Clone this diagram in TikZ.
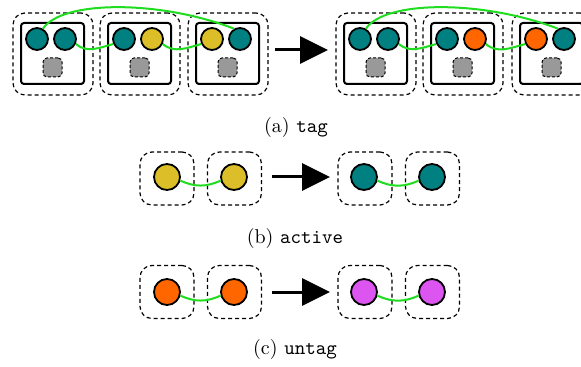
\documentclass[tikz,border=0pt]{standalone}
\usetikzlibrary{arrows.meta}
\definecolor{tealc}{RGB}{0,128,128}
\definecolor{yellowc}{RGB}{219,190,40}
\definecolor{orangec}{RGB}{255,102,0}
\definecolor{magentac}{RGB}{220,85,240}
\definecolor{linkgreen}{RGB}{30,220,30}
\definecolor{graysq}{RGB}{153,153,153}
\tikzset{
  outerbox/.style={draw, dash pattern=on 2pt off 1.5pt, rounded corners=6pt, line width=0.6pt, inner sep=0pt},
  innerbox/.style={draw, line width=1pt, rounded corners=1.5pt, minimum width=31.5pt, minimum height=30.5pt, inner sep=0pt},
  ball/.style={circle, draw, line width=0.9pt, minimum size=11pt, inner sep=0pt, fill=#1},
  bigball/.style={ball=#1, minimum size=13pt},
  slot/.style={draw, dash pattern=on 1.5pt off 1pt, line width=0.5pt, fill=graysq, rounded corners=2pt, minimum size=9.5pt, inner sep=0pt},
  link/.style={draw=linkgreen, line width=1pt},
  bigarrow/.style={line width=1.5pt, -{Triangle[length=14pt,width=13.5pt]}},
  captext/.style={inner sep=0pt, font=\normalsize},
}
% #1 name, #2 X, #3 colour A, #4 colour B
\newcommand\tgrp[4]{%
  \node[outerbox, minimum width=40pt, minimum height=41pt] (#1o) at (#2+40,54) {};
  \node[innerbox] (#1i) at (#2+39.5,53.5) {};
  \node[ball=#3] (#1a) at (#2+24,39) {};
  \node[ball=#4] (#1b) at (#2+52,39) {};
  \node[slot] (#1s) at (#2+39.5,67.5) {};
}
% #1 name, #2 box centre x, #3 circle x, #4 box centre y, #5 circle y, #6 colour
\newcommand\sgrp[6]{%
  \node[outerbox, minimum width=27pt, minimum height=26.5pt] (#1o) at (#2,#4) {};
  \node[bigball=#6] (#1) at (#3,#5) {};
}
\begin{document}
\begin{tikzpicture}[x=0.5pt, y=-0.5pt]
\useasboundingbox (0,0) rectangle (581,367);
% ---------- (a) tag ----------
\tgrp{La}{13}{tealc}{tealc}
\tgrp{Lb}{100}{tealc}{yellowc}
\tgrp{Lc}{188}{yellowc}{tealc}
\tgrp{Ra}{336}{tealc}{tealc}
\tgrp{Rb}{423}{tealc}{orangec}
\tgrp{Rc}{512}{orangec}{tealc}
\draw[link] (Laa.60) .. controls (62,0) and (160,0) .. (Lcb.120);
\draw[link] (Lab.-25) to[out=-40,in=195] (Lba.205);
\draw[link] (Lbb.-25) to[out=-40,in=195] (Lca.205);
\draw[link] (Raa.60) .. controls (385,0) and (483,0) .. (Rcb.120);
\draw[link] (Rab.-25) to[out=-40,in=195] (Rba.205);
\draw[link] (Rbb.-25) to[out=-40,in=195] (Rca.205);
\coordinate (aS) at (275,50);
\coordinate (aE) at (328,50);
\draw[bigarrow] (aS) -- (aE);
\node[captext] (capa) at (296,127.5) {(a) \texttt{tag}};
% ---------- (b) active ----------
\sgrp{b1}{167}{167}{178.5}{177}{yellowc}
\sgrp{b2}{234.5}{234}{178.5}{177}{yellowc}
\sgrp{b3}{365}{364}{178.5}{177}{tealc}
\sgrp{b4}{432.5}{432}{178.5}{177}{tealc}
\draw[link] (b1.-15) to[out=-25,in=205] (b2.195);
\draw[link] (b3.-15) to[out=-25,in=205] (b4.195);
\coordinate (bS) at (272,177);
\coordinate (bE) at (330,177);
\draw[bigarrow] (bS) -- (bE);
\node[captext] (capb) at (295,238.5) {(b) \texttt{active}};
% ---------- (c) untag ----------
\sgrp{c1}{167}{167}{292}{292}{orangec}
\sgrp{c2}{234.5}{234}{292}{292}{orangec}
\sgrp{c3}{365}{364}{292}{292}{magentac}
\sgrp{c4}{432.5}{432}{292}{292}{magentac}
\draw[link] (c1.-15) to[out=-25,in=205] (c2.195);
\draw[link] (c3.-15) to[out=-25,in=205] (c4.195);
\coordinate (cS) at (272,292);
\coordinate (cE) at (330,292);
\draw[bigarrow] (cS) -- (cE);
\node[captext] (capc) at (295,349) {(c) \texttt{untag}};
\end{tikzpicture}
\end{document}
